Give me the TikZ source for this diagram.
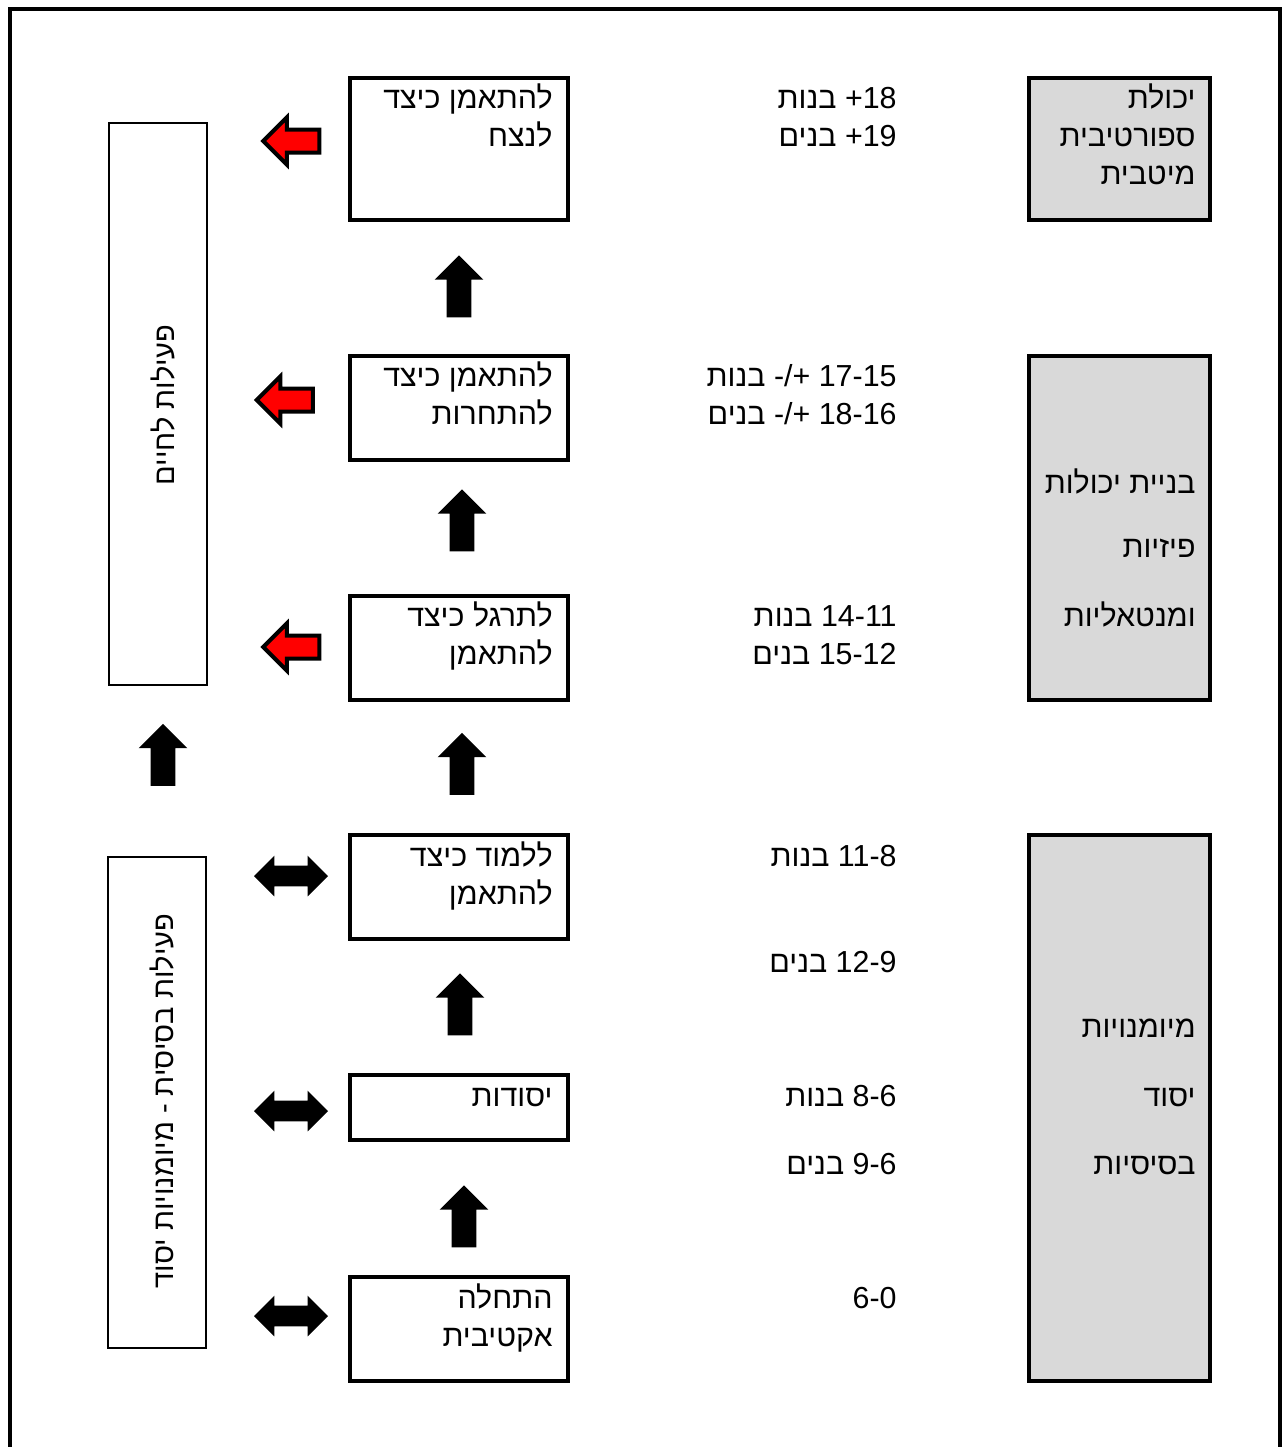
\documentclass[tikz,border=0pt]{standalone}
\usepackage{fontspec}
\setmainfont{Liberation Sans}
\newfontfamily\hebfont[Script=Hebrew]{Liberation Sans}
\usetikzlibrary{shapes.arrows}
\TeXXeTstate=1
\newcommand{\rl}[1]{\beginR{\hebfont #1}\endR}
\definecolor{boxgrey}{HTML}{D9D9D9}

\begin{document}
\begin{tikzpicture}[x=0.5pt, y=-0.5pt,
    stagebox/.style={draw, line width=2pt, inner sep=0pt, outer sep=0pt, minimum width=109pt},
    greybox/.style={stagebox, fill=boxgrey, minimum width=90.5pt},
    sidebox/.style={draw, line width=0.75pt, inner sep=0pt, minimum width=49pt},
    txt/.style={font=\fontsize{15.2}{19}\selectfont, align=right, anchor=base east, inner sep=0pt},
    sidetxt/.style={font=\fontsize{14.5}{16}\selectfont, rotate=90, inner sep=0pt},
    uparr/.style={single arrow, fill=black, rotate=90, inner xsep=0pt, inner ysep=6pt,
      single arrow head extend=6pt, minimum height=31pt},
    redarr/.style={single arrow, draw=black, line width=2pt, fill=red, rotate=180, inner xsep=0pt,
      inner ysep=4.75pt, single arrow head extend=6pt, minimum height=28pt},
    dblarr/.style={double arrow, fill=black, inner xsep=0pt, inner ysep=5pt,
      double arrow head extend=5pt, minimum height=37pt}]
  \useasboundingbox (0,0) rectangle (1281,1447);
  \draw[line width=2pt] (10,1460) -- (10,9) -- (1280,9) -- (1280,1460);

  % stages (text anchored at the baseline of the last line)
  \node[stagebox, minimum height=71pt] (b1) at (459,149) {};
  \node[stagebox, minimum height=52pt] (b2) at (459,408) {};
  \node[stagebox, minimum height=52pt] (b3) at (459,648) {};
  \node[stagebox, minimum height=52pt] (b4) at (459,887) {};
  \node[stagebox, minimum height=32.5pt] (b5) at (459,1107.5) {};
  \node[stagebox, minimum height=52pt] (b6) at (459,1329) {};
  \node[txt] (t1) at (553,146.5) {\rl{להתאמן כיצד}\\\rl{לנצח}};
  \node[txt] (t2) at (553,424.5) {\rl{להתאמן כיצד}\\\rl{להתחרות}};
  \node[txt] (t3) at (553,664.5) {\rl{לתרגל כיצד}\\\rl{להתאמן}};
  \node[txt] (t4) at (553,904.5) {\rl{ללמוד כיצד}\\\rl{להתאמן}};
  \node[txt] (t5) at (553,1106.5) {\rl{יסודות}};
  \node[txt] (t6) at (553,1346.5) {\rl{התחלה}\\\rl{אקטיבית}};

  % ages
  \node[txt] (a1) at (897,146.5) {\rl{בנות} +18\\\rl{בנים} +19};
  \node[txt] (a2) at (897,424.5) {\rl{בנות} -/+ 17-15\\\rl{בנים} -/+ 18-16};
  \node[txt] (a3) at (897,664.5) {\rl{בנות} 14-11\\\rl{בנים} 15-12};
  \node[txt] (a4) at (897,866.5) {\rl{בנות} 11-8};
  \node[txt] (a5) at (897,972.5) {\rl{בנים} 12-9};
  \node[txt] (a6) at (897,1106.5) {\rl{בנות} 8-6};
  \node[txt] (a7) at (897,1174.5) {\rl{בנים} 9-6};
  \node[txt] (a8) at (897,1308.5) {6-0};

  % grey column
  \node[greybox, minimum height=71pt] (g1) at (1119.5,149) {};
  \node[greybox, minimum height=172pt] (g2) at (1119.5,528) {};
  \node[greybox, minimum height=273pt] (g3) at (1119.5,1108) {};
  \node[txt] (gt1) at (1196,184.5) {\rl{יכולת}\\\rl{ספורטיבית}\\\rl{מיטבית}};
  \node[txt] (gt2) at (1196,626.5) {\rl{בניית יכולות}\\[13pt]\rl{פיזיות}\\[15.5pt]\rl{ומנטאליות}};
  \node[txt] (gt3) at (1196,1174.5) {\rl{מיומנויות}\\[15.5pt]\rl{יסוד}\\[15pt]\rl{בסיסיות}};

  % side column
  \node[sidebox, minimum height=281pt] (s1) at (158,404) {};
  \node[sidebox, minimum height=245.5pt] (s2) at (157,1102.5) {};
  \node[sidetxt] (st1) at (163,405) {\rl{פעילות לחיים}};
  \node[sidetxt] (st2) at (162,1101) {\rl{פעילות בסיסית - מיומנויות יסוד}};

  % arrows
  \node[uparr] (u1) at (459,292.5) {};
  \node[uparr] (u2) at (462,526.5) {};
  \node[uparr] (u3) at (462,770) {};
  \node[uparr] (u4) at (460,1010.5) {};
  \node[uparr] (u5) at (464,1222.5) {};
  \node[uparr] (u6) at (163,761) {};
  \node[redarr] (r1) at (297,141) {};
  \node[redarr] (r2) at (290.5,400) {};
  \node[redarr] (r3) at (297,647) {};
  \node[dblarr] (d1) at (291,876) {};
  \node[dblarr] (d2) at (291,1111) {};
  \node[dblarr] (d3) at (291,1316) {};
\end{tikzpicture}
\end{document}
